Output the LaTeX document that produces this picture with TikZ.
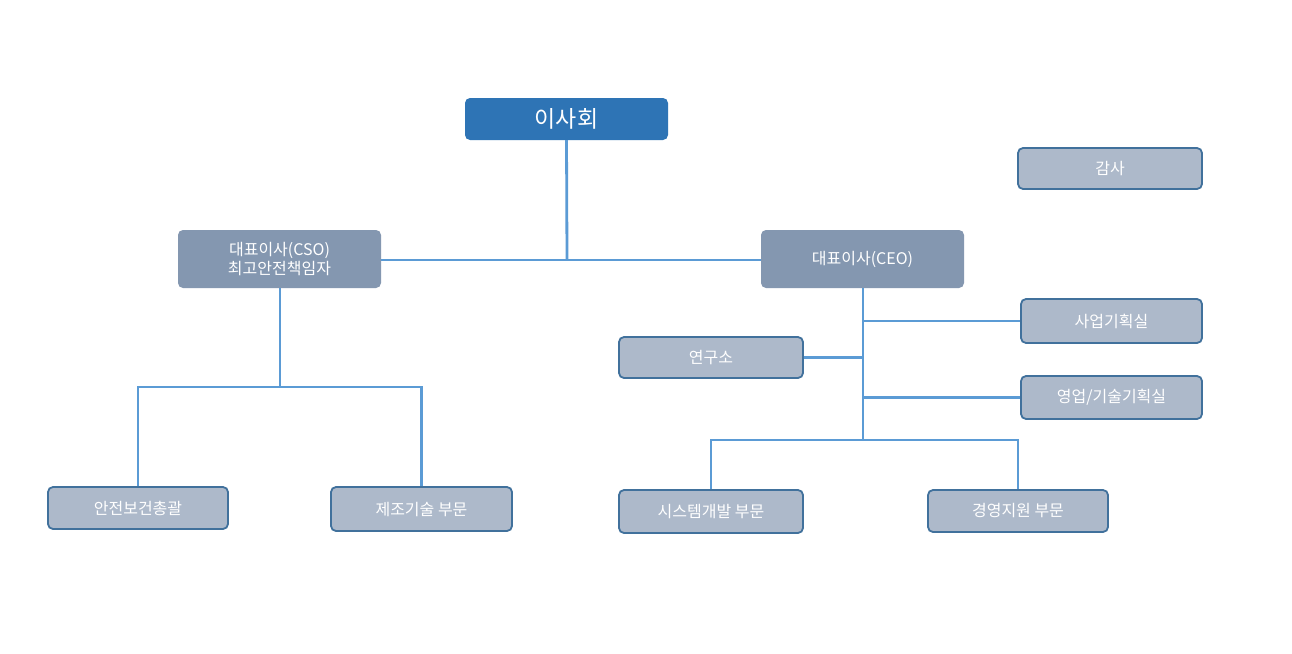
\documentclass[tikz,border=0pt]{standalone}
\usepackage{fontspec}
\newfontfamily\kr{Noto Sans CJK KR}
\definecolor{topc}{HTML}{2E74B5}
\definecolor{midc}{HTML}{8497B0}
\definecolor{lowc}{HTML}{ADB9CA}
\definecolor{bord}{HTML}{41719C}
\definecolor{linec}{HTML}{5B9BD5}
\begin{document}
\begin{tikzpicture}[x=1pt,y=-1pt,
  box/.style={rounded corners=5pt,text=white,font=\kr\fontsize{16}{19}\selectfont,align=center,inner sep=0pt},
  top/.style={box,fill=topc,font=\kr\fontsize{23}{26}\selectfont},
  mid/.style={box,fill=midc},
  low/.style={box,fill=lowc,draw=bord,line width=1.8pt},
  conn/.style={draw=linec,line width=2.8pt}]
\useasboundingbox (0,0) rectangle (1292,653);
\fill[white] (0,0) rectangle (1292,653);
\newcommand\bx[6]{\node[#1,minimum width=#4-#2,minimum height=#5-#3] (#6) at ({(#2+#4)/2},{(#3+#5)/2})}
\bx{top}{465}{98}{668}{140}{board} {이사회};
\bx{mid}{178}{230}{381}{288}{cso} {대표이사(CSO)\\최고안전책임자};
\bx{mid}{761}{230}{964}{288}{ceo} {대표이사(CEO)};
\bx{low}{1018}{148}{1202}{189}{audit} {감사};
\bx{low}{1021}{299}{1202}{343}{plan} {사업기획실};
\bx{low}{619}{337}{803}{378}{lab} {연구소};
\bx{low}{1021}{376}{1202}{419}{sales} {영업/기술기획실};
\bx{low}{48}{487}{228}{529}{safety} {안전보건총괄};
\bx{low}{331}{487}{512}{531}{mfg} {제조기술 부문};
\bx{low}{619}{490}{803}{533}{sys} {시스템개발 부문};
\bx{low}{928}{490}{1108}{532}{mgmt} {경영지원 부문};
\begin{scope}[on background layer/.style={}]
\coordinate (j1) at (567,260);
\coordinate (j2) at (280,387);
\coordinate (j3) at (863,440);
\end{scope}
\draw[conn] (board.south) -- (j1);
\draw[conn] (cso.east |- j1) -- (ceo.west |- j1);
\draw[conn] (cso.south -| j2) -- (j2);
\draw[conn] (safety.north) |- (j2) -| (mfg.north);
\draw[conn] (ceo.south -| j3) -- (j3);
\draw[conn] (sys.north) |- (j3) -| (mgmt.north);
\draw[conn] (plan.west) -- (plan.west -| j3);
\draw[conn] (lab.east) -- (lab.east -| j3);
\draw[conn] (sales.west) -- (sales.west -| j3);
\end{tikzpicture}
\end{document}
